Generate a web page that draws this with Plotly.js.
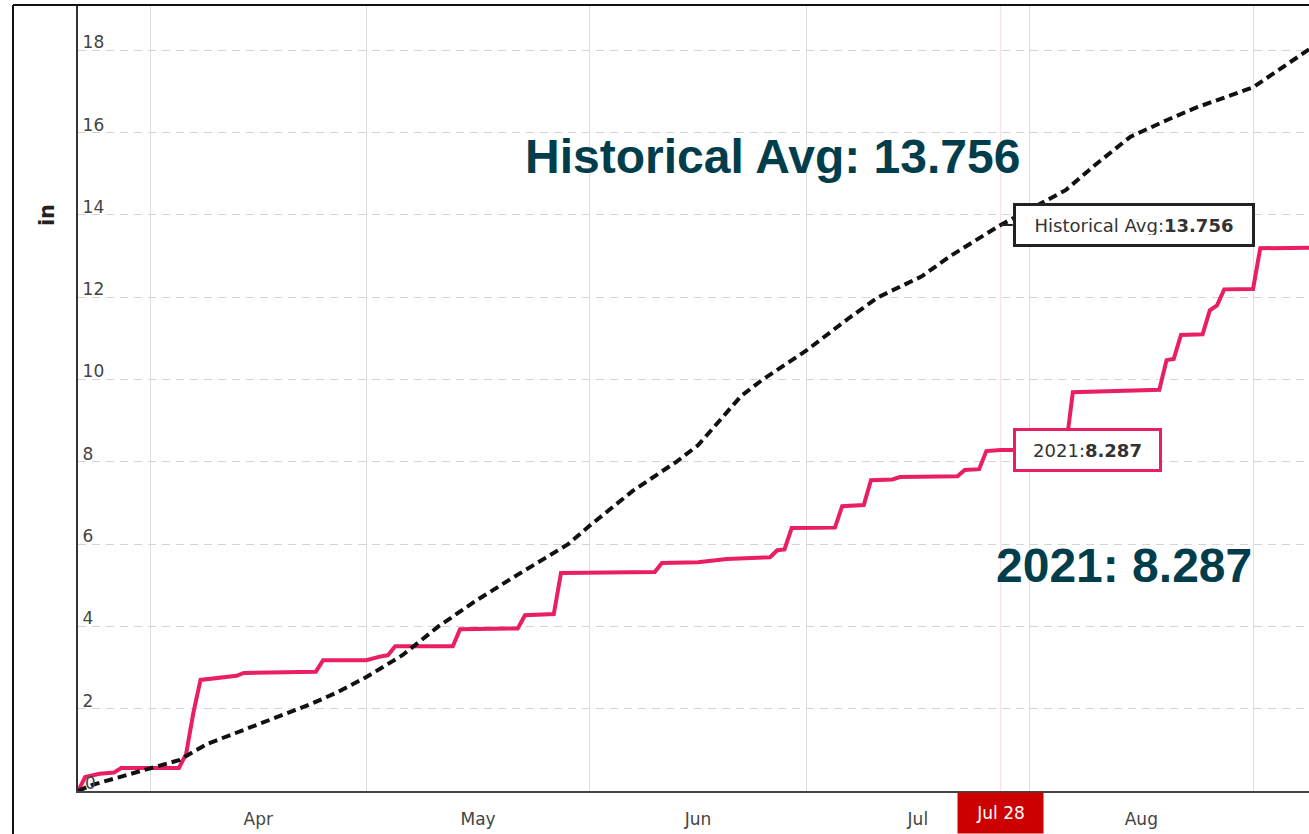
<!DOCTYPE html>
<html>
<head>
<meta charset="utf-8">
<script src="https://cdn.plot.ly/plotly-3.0.1.min.js"></script>
<style>
html,body{margin:0;padding:0;background:#fff;}
#chart{width:1309px;height:834px;}
</style>
</head>
<body>
<div id="chart"></div>
<script>
// 2021 cumulative precipitation (in)
const dates2021 = ['2021-03-22','2021-03-23','2021-03-25','2021-03-27','2021-03-28','2021-04-05','2021-04-06','2021-04-07','2021-04-08','2021-04-13','2021-04-14','2021-04-24','2021-04-25','2021-05-01','2021-05-03','2021-05-04','2021-05-05','2021-05-13','2021-05-14','2021-05-22','2021-05-23','2021-05-27','2021-05-28','2021-06-10','2021-06-11','2021-06-16','2021-06-20','2021-06-26','2021-06-27','2021-06-28','2021-06-29','2021-07-05','2021-07-06','2021-07-09','2021-07-10','2021-07-13','2021-07-14','2021-07-22','2021-07-23','2021-07-25','2021-07-26','2021-07-28','2021-08-06','2021-08-07','2021-08-19','2021-08-20','2021-08-21','2021-08-22','2021-08-25','2021-08-26','2021-08-27','2021-08-28','2021-09-01','2021-09-02','2021-09-09'];
const values2021 = [0,0.34,0.42,0.45,0.56,0.56,0.9,1.9,2.7,2.8,2.87,2.9,3.18,3.18,3.27,3.3,3.52,3.52,3.93,3.95,4.27,4.3,5.3,5.32,5.54,5.56,5.64,5.68,5.85,5.87,6.39,6.4,6.92,6.95,7.55,7.57,7.63,7.65,7.8,7.82,8.26,8.287,8.29,9.69,9.75,10.47,10.5,11.08,11.1,11.68,11.8,12.19,12.2,13.19,13.2];

// Historical average cumulative precipitation (in)
const datesHist = ['2021-03-22','2021-03-24','2021-03-28','2021-04-01','2021-04-05','2021-04-09','2021-04-14','2021-04-18','2021-04-23','2021-04-27','2021-05-01','2021-05-06','2021-05-11','2021-05-16','2021-05-21','2021-05-29','2021-06-01','2021-06-07','2021-06-13','2021-06-16','2021-06-19','2021-06-22','2021-06-25','2021-07-01','2021-07-07','2021-07-11','2021-07-17','2021-07-21','2021-07-28','2021-08-06','2021-08-10','2021-08-15','2021-08-20','2021-08-24','2021-09-01','2021-09-09'];
const valuesHist = [0,0.15,0.35,0.56,0.75,1.15,1.48,1.75,2.09,2.4,2.77,3.3,4.0,4.6,5.15,6.0,6.45,7.3,8.0,8.4,9.0,9.6,10.0,10.7,11.5,12.0,12.5,13.0,13.756,14.6,15.2,15.9,16.3,16.6,17.1,18.05];

const yTicks = [0,2,4,6,8,10,12,14,16,18];
const seriesName2021 = '2021';
const seriesNameHist = 'Historical Avg';
const markerDate = '2021-07-28';
const markerLabel = 'Jul 28';
const markerHist = 13.756;
const marker2021 = 8.287;
const yUnit = 'in';

const traces = [
  {
    x: dates2021, y: values2021, type: 'scatter', mode: 'lines', name: seriesName2021,
    line: {color: '#E91E63', width: 4}
  },
  {
    x: datesHist, y: valuesHist, type: 'scatter', mode: 'lines', name: seriesNameHist,
    line: {color: '#111111', width: 4, dash: '9px,5px'}
  }
];

const tickFont = {family: 'DejaVu Sans, Verdana, sans-serif', size: 17, color: '#444'};
const bigFont = {family: 'Liberation Sans, Arial, sans-serif', size: 48, color: '#023D4B'};

const layout = {
  width: 1309, height: 834,
  margin: {l: 78, r: 0, t: 5, b: 43, autoexpand: false},
  paper_bgcolor: '#ffffff', plot_bgcolor: '#ffffff',
  showlegend: false,
  hovermode: false,
  xaxis: {
    type: 'date',
    range: ['2021-03-22', '2021-09-08 18:15'],
    tick0: '2021-04-01', dtick: 'M1', tickformat: '%b',
    ticklabelmode: 'period',
    ticklabelstandoff: 12,
    showgrid: true, gridcolor: '#dcdcdc', gridwidth: 1,
    showline: true, linecolor: '#444', linewidth: 2,
    zeroline: false, ticks: '',
    tickfont: tickFont
  },
  yaxis: {
    range: [0, 19.1],
    tickvals: yTicks,
    ticktext: yTicks.map(String),
    ticklabelposition: 'inside',
    ticklabelshift: -8,
    ticklabelstandoff: 5,
    showgrid: true, gridcolor: '#d4d4d4', gridwidth: 1, griddash: '8px,6px',
    showline: true, linecolor: '#333', linewidth: 2,
    zeroline: false, ticks: '',
    tickfont: tickFont
  },
  shapes: [
    {type: 'line', xref: 'x', yref: 'paper', x0: markerDate, x1: markerDate, y0: 0, y1: 1,
     line: {color: 'rgba(230,40,60,0.18)', width: 1}, layer: 'below'},
    {type: 'line', xref: 'paper', yref: 'paper', x0: -0.0528, x1: 1.01, y0: 1, y1: 1,
     line: {color: '#111', width: 2}},
    {type: 'line', xref: 'paper', yref: 'paper', x0: -0.0528, x1: -0.0528, y0: 1, y1: -0.1,
     line: {color: '#111', width: 2}}
  ],
  annotations: [
    // zero tick label (Plotly hides inside labels at the very edge)
    {xref: 'paper', yref: 'y', x: 0, y: yTicks[0], text: String(yTicks[0]), showarrow: false,
     xanchor: 'left', yanchor: 'middle', xshift: 5, yshift: 8, font: tickFont},
    {xref: 'paper', yref: 'y', x: -0.025, y: 14, text: '<b>' + yUnit + '</b>', textangle: -90, showarrow: false,
     xanchor: 'center', yanchor: 'middle',
     font: {family: 'DejaVu Sans, sans-serif', size: 21, color: '#222'}},
    {xref: 'paper', yref: 'y', x: 0.5638, y: 15.41, xanchor: 'center', yanchor: 'middle',
     text: '<b>' + seriesNameHist + ': ' + markerHist + '</b>',
     showarrow: false, font: bigFont},
    {xref: 'paper', yref: 'y', x: 0.8497, y: 5.48, xanchor: 'center', yanchor: 'middle',
     text: '<b>' + seriesName2021 + ': ' + marker2021 + '</b>',
     showarrow: false, font: bigFont},
    {xref: 'x', yref: 'y', x: markerDate, y: markerHist,
     text: seriesNameHist + ':<b>' + markerHist + '</b>',
     showarrow: true, ax: 12, ay: 0, xanchor: 'left', arrowhead: 0, arrowwidth: 2, arrowcolor: '#222',
     bgcolor: '#ffffff', bordercolor: '#222', borderwidth: 3, borderpad: 9, width: 218, height: 20,
     font: {family: 'DejaVu Sans, Verdana, sans-serif', size: 18, color: '#333'}},
    {xref: 'x', yref: 'y', x: markerDate, y: marker2021,
     text: seriesName2021 + ':<b>' + marker2021 + '</b>',
     showarrow: true, ax: 12, ay: 0, xanchor: 'left', arrowhead: 0, arrowwidth: 2, arrowcolor: '#E91E63',
     bgcolor: '#ffffff', bordercolor: '#E91E63', borderwidth: 3, borderpad: 9, width: 125, height: 20,
     font: {family: 'DejaVu Sans, Verdana, sans-serif', size: 18, color: '#333'}},
    {xref: 'x', yref: 'paper', x: markerDate, y: 0, yanchor: 'top', yshift: -1,
     text: markerLabel, showarrow: false, bgcolor: '#CC0000', borderpad: 2, width: 81, height: 36,
     font: {family: 'DejaVu Sans, Verdana, sans-serif', size: 17, color: '#ffffff'}}
  ]
};

Plotly.newPlot('chart', traces, layout, {staticPlot: true, displayModeBar: false});
</script>
</body>
</html>
